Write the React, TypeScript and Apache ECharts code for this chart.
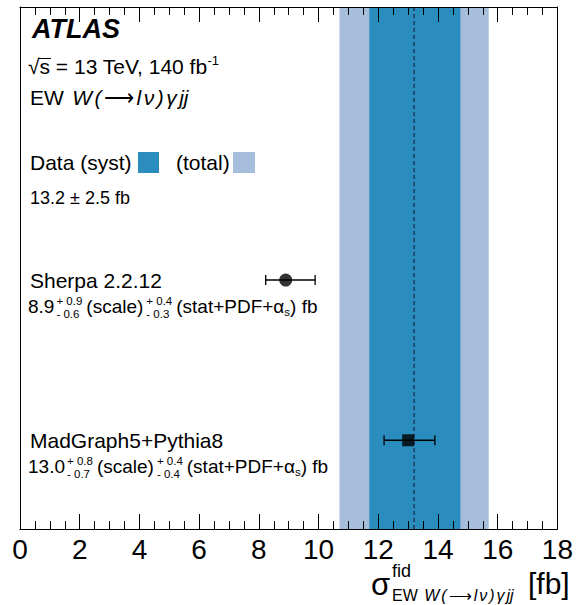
import React, { useEffect, useRef } from "react";
import * as echarts from "echarts";

const FONT = '"Liberation Sans", Arial, Helvetica, sans-serif';

// Horizontal axis: fiducial cross-section in fb
const xMin = 0;
const xMax = 18;
const xStep = 2;

// Measured cross-section
const dataCentral = 13.2;
const dataTotal = 2.5;
const dataSystDown = 1.5;
const dataSystUp = 1.55;

// Theory predictions
const predLabels = ["Sherpa 2.2.12", "MadGraph5+Pythia8"];
const predCentral = [8.9, 13.0];
const predScaleUp = [0.9, 0.8];
const predScaleDown = [0.6, 0.7];
const predStatUp = [0.4, 0.4];
const predStatDown = [0.3, 0.4];
const predSymbols = ["circle", "rect"];
const predSymbolSizes = [13, 12];
// vertical slot of each prediction inside the frame (0 = top, 1 = bottom)
const predSlots = [0.523, 0.83];

const COL_SYST = "#2b8cbe";
const COL_TOTAL = "#a6bddb";
const COL_LINE = "#1c3d5a";

const measureCtx = document.createElement("canvas").getContext("2d")!;
function tw(text: string, size: number, style = "normal", weight = "normal") {
  measureCtx.font = `${style} ${weight} ${size}px ${FONT}`;
  return measureCtx.measureText(text).width;
}

// text element placed by its alphabetic baseline
function T(x: number, base: number, text: string, size: number, style = "normal", weight = "normal") {
  return {
    type: "text",
    x,
    y: base - 0.35 * size,
    z: 100,
    silent: true,
    style: {
      text,
      fontSize: size,
      fontFamily: FONT,
      fontStyle: style,
      fontWeight: weight,
      fill: "#000",
      align: "left",
      verticalAlign: "middle",
    },
  };
}

// "EW W(->l nu) gamma jj" with the italic symbols spaced out
function processText(x0: number, base: number, size: number, gap: number) {
  const els: any[] = [];
  let x = x0;
  els.push(T(x, base, "EW", size));
  x += tw("EW ", size) + gap;
  const parts = ["W", "(", "⟶", "l", "ν", ")", "γ", "jj"];
  parts.forEach((p) => {
    const st = p === "⟶" ? "normal" : "italic";
    els.push(T(x, base, p, size, st));
    x += tw(p, size, st) + gap;
  });
  return { els, end: x - gap };
}

function uncertaintyLine(x0: number, base: number, i: number) {
  const F = 19;
  const f = 11.5;
  const els: any[] = [];
  let x = x0;
  const c = predCentral[i].toFixed(1);
  els.push(T(x, base, c, F));
  x += tw(c, F) + 2;
  const pair = (up: number, dn: number) => {
    const u = `+ ${up.toFixed(1)}`;
    const d = `- ${dn.toFixed(1)}`;
    els.push(T(x, base - 8, u, f));
    els.push(T(x, base + 5, d, f));
    x += Math.max(tw(u, f), tw(d, f)) + 4;
  };
  pair(predScaleUp[i], predScaleDown[i]);
  els.push(T(x, base, "(scale)", F));
  x += tw("(scale)", F) + 3;
  pair(predStatUp[i], predStatDown[i]);
  els.push(T(x, base, "(stat+PDF+α", F));
  x += tw("(stat+PDF+α", F);
  els.push(T(x, base + 3, "s", f));
  x += tw("s", f);
  els.push(T(x, base, ") fb", F));
  return els;
}

function buildGraphics() {
  const g: any[] = [];
  // experiment label
  g.push(T(32, 38, "ATLAS", 27, "italic", "bold"));
  // centre-of-mass energy and luminosity
  const s0 = 28;
  const sq = "√s = 13 TeV, 140 fb";
  g.push(T(s0, 74, sq, 21));
  g.push({
    type: "line",
    z: 100,
    silent: true,
    shape: { x1: s0 + tw("√", 21) - 1, y1: 58.5, x2: s0 + tw("√s", 21) + 1, y2: 58.5 },
    style: { stroke: "#000", lineWidth: 1 },
  });
  g.push(T(s0 + tw(sq, 21), 65, "-1", 13));
  // process
  g.push(...processText(30, 105, 21, 2.5).els);
  // measurement legend
  g.push(T(30, 170, "Data (syst)", 21));
  g.push({ type: "rect", z: 100, silent: true, shape: { x: 138, y: 152, width: 21, height: 21 }, style: { fill: COL_SYST } });
  g.push(T(176, 170, "(total)", 21));
  g.push({ type: "rect", z: 100, silent: true, shape: { x: 233, y: 152, width: 22, height: 21 }, style: { fill: COL_TOTAL } });
  g.push(T(30, 204, `${dataCentral.toFixed(1)} ± ${dataTotal.toFixed(1)} fb`, 18));
  // predictions
  const nameBase = [288, 448];
  const valBase = [313, 473];
  predLabels.forEach((name, i) => {
    g.push(T(30, nameBase[i], name, 21));
    g.push(...uncertaintyLine(28, valBase[i], i));
  });
  // x-axis title
  g.push(T(371, 595, "σ", 31));
  g.push(T(392, 577, "fid", 18));
  const sub = processText(392, 601, 16, 2);
  g.push(...sub.els);
  g.push(T(528, 594, "[fb]", 30));
  return g;
}

function quad(a: number, b: number) {
  return Math.sqrt(a * a + b * b);
}

function bandSeries(lo: number, hi: number, color: string, z: number) {
  return {
    type: "custom",
    silent: true,
    z,
    data: [[lo, hi]],
    encode: { x: [0, 1] },
    renderItem: (_p: any, api: any) => {
      const a = api.coord([api.value(0), 0]);
      const b = api.coord([api.value(1), 1]);
      return {
        type: "rect",
        shape: { x: a[0], y: Math.min(a[1], b[1]), width: b[0] - a[0], height: Math.abs(b[1] - a[1]) },
        style: { fill: color },
      };
    },
  };
}

function buildOption() {
  const errData = predCentral.map((c, i) => [
    c - quad(predScaleDown[i], predStatDown[i]),
    c + quad(predScaleUp[i], predStatUp[i]),
    predSlots[i],
  ]);
  const axisBase = {
    type: "value",
    min: xMin,
    max: xMax,
    interval: xStep,
    z: 10,
    axisLine: { show: true, onZero: false, lineStyle: { color: "#000", width: 1 } },
    axisTick: { show: true, inside: true, length: 15, lineStyle: { color: "#000", width: 1 } },
    minorTick: { show: true, splitNumber: 4, length: 8, lineStyle: { color: "#000", width: 1 } },
    splitLine: { show: false },
    minorSplitLine: { show: false },
  };
  const yBase = {
    type: "value",
    min: 0,
    max: 1,
    inverse: true,
    z: 10,
    axisLine: { show: true, onZero: false, lineStyle: { color: "#000", width: 1 } },
    axisTick: { show: false },
    axisLabel: { show: false },
    splitLine: { show: false },
  };
  return {
    animation: false,
    backgroundColor: "#fff",
    grid: { left: 20, right: 16, top: 7, bottom: 76 },
    xAxis: [
      {
        ...axisBase,
        position: "bottom",
        axisLabel: { show: true, fontSize: 28, color: "#000", fontFamily: FONT, margin: 6 },
      },
      { ...axisBase, position: "top", axisLabel: { show: false } },
    ],
    yAxis: [
      { ...yBase, position: "left" },
      { ...yBase, position: "right" },
    ],
    series: [
      bandSeries(dataCentral - dataTotal, dataCentral + dataTotal, COL_TOTAL, 1),
      bandSeries(dataCentral - dataSystDown, dataCentral + dataSystUp, COL_SYST, 2),
      {
        type: "custom",
        silent: true,
        z: 3,
        data: [[dataCentral]],
        encode: { x: 0 },
        renderItem: (_p: any, api: any) => {
          const a = api.coord([api.value(0), 0]);
          const b = api.coord([api.value(0), 1]);
          return {
            type: "line",
            shape: { x1: a[0], y1: a[1], x2: b[0], y2: b[1] },
            style: { stroke: COL_LINE, lineWidth: 1.5, lineDash: [4, 3] },
          };
        },
      },
      {
        type: "custom",
        silent: true,
        z: 4,
        data: errData,
        encode: { x: [0, 1], y: 2 },
        renderItem: (_p: any, api: any) => {
          const y = api.value(2);
          const a = api.coord([api.value(0), y]);
          const b = api.coord([api.value(1), y]);
          const cap = 5;
          const st = { stroke: "#000", lineWidth: 1.3 };
          return {
            type: "group",
            children: [
              { type: "line", shape: { x1: a[0], y1: a[1], x2: b[0], y2: b[1] }, style: st },
              { type: "line", shape: { x1: a[0], y1: a[1] - cap, x2: a[0], y2: a[1] + cap }, style: st },
              { type: "line", shape: { x1: b[0], y1: b[1] - cap, x2: b[0], y2: b[1] + cap }, style: st },
            ],
          };
        },
      },
      {
        type: "scatter",
        silent: true,
        z: 5,
        itemStyle: { color: "#000" },
        data: predCentral.map((c, i) => ({
          value: [c, predSlots[i]],
          symbol: predSymbols[i],
          symbolSize: predSymbolSizes[i],
        })),
      },
    ],
    graphic: { elements: buildGraphics() },
  };
}

export default function App() {
  const ref = useRef<HTMLDivElement>(null);
  useEffect(() => {
    const el = ref.current!;
    const chart = echarts.init(el, null, { renderer: "svg" });
    chart.setOption(buildOption() as any);
    return () => chart.dispose();
  }, []);
  return (
    <div
      ref={ref}
      style={{ position: "fixed", left: 0, top: 0, width: 576, height: 605, background: "#fff" }}
    />
  );
}
